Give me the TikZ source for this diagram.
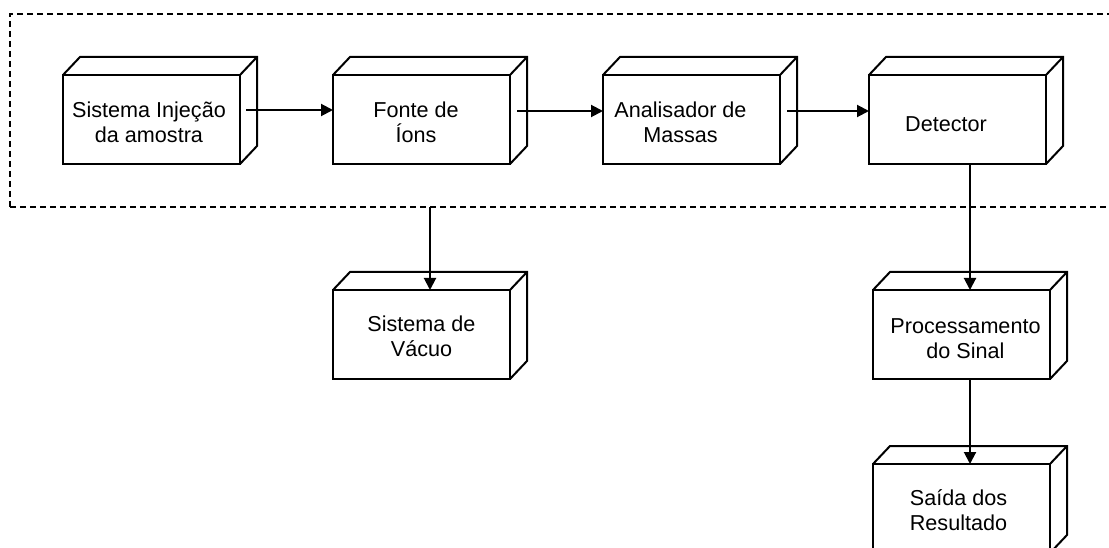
\documentclass[tikz,border=0pt]{standalone}
\usepackage{fontspec}
\setmainfont{Liberation Sans}
\usetikzlibrary{arrows.meta}
\tikzset{
  cube/.style={draw, line width=2pt, minimum width=177pt, minimum height=89pt, inner sep=0pt, outer sep=0pt},
  lbl/.style={font=\fontsize{21.6}{25}\selectfont, align=center, inner sep=0pt},
  frame/.style={draw, dashed, dash pattern=on 6pt off 4pt, line width=1.4pt, inner sep=0pt, outer sep=0pt},
  arr/.style={line width=2pt, -{Triangle[length=12pt,width=12pt]}},
  depth/.style={line width=2pt, line join=miter}
}
\begin{document}
\begin{tikzpicture}[x=1pt,y=-1pt]
\useasboundingbox (0,0) rectangle (1109,548);
\clip (0,0) rectangle (1109,548);
\node[frame, minimum width=1110pt, minimum height=193pt] (frame) at (565,110.5) {};
\node[cube, label={[lbl,name=t1,xshift=-2.5pt,yshift=-2.5pt]center:{Sistema Injeção\\da amostra}}] (b1) at (151.5,119.5) {};
\node[cube, label={[lbl,name=t2,xshift=-5.5pt,yshift=-2.5pt]center:{Fonte de\\Íons}}] (b2) at (421.5,119.5) {};
\node[cube, label={[lbl,name=t3,xshift=-11pt,yshift=-2.5pt]center:{Analisador de\\Massas}}] (b3) at (691.5,119.5) {};
\node[cube, label={[lbl,name=t4,xshift=-11.5pt,yshift=-4.5pt]center:{Detector}}] (b4) at (957.5,119.5) {};
\node[cube, label={[lbl,name=t5,xshift=0pt,yshift=-2pt]center:{Sistema de\\Vácuo}}] (vac) at (421.5,334.5) {};
\node[cube, label={[lbl,name=t6,xshift=4pt,yshift=-4pt]center:{Processamento\\do Sinal}}] (proc) at (961.5,334.5) {};
\node[cube, label={[lbl,name=t7,xshift=-3pt,yshift=-2pt]center:{Saída dos\\Resultado}}] (saida) at (961.5,508.5) {};
\foreach \n in {b1,b2,b3,b4,vac,proc,saida}{
  \draw[depth] (\n.north west) -- ++(17,-18) -- ([shift={(17,-18)}]\n.north east) -- ([shift={(17,-18)}]\n.south east) -- (\n.south east);
  \draw[depth] (\n.north east) -- ++(17,-18);
}
\draw[arr] ([shift={(6,-9.5)}]b1.east) -- ([yshift=9.5pt]b2.west);
\draw[arr] ([shift={(7,-8.5)}]b2.east) -- ([yshift=8.5pt]b3.west);
\draw[arr] ([shift={(7,-8.5)}]b3.east) -- ([yshift=8.5pt]b4.west);
\coordinate (vtop) at ([xshift=8.5pt]vac.north |- frame.south);
\draw[arr] (vtop) -- ([xshift=8.5pt]vac.north);
\draw[arr] ([xshift=12.5pt]b4.south) -- ([xshift=12.5pt]b4.south |- proc.north);
\draw[arr] ([xshift=8.5pt]proc.south) -- ([xshift=8.5pt]saida.north);
\end{tikzpicture}
\end{document}
